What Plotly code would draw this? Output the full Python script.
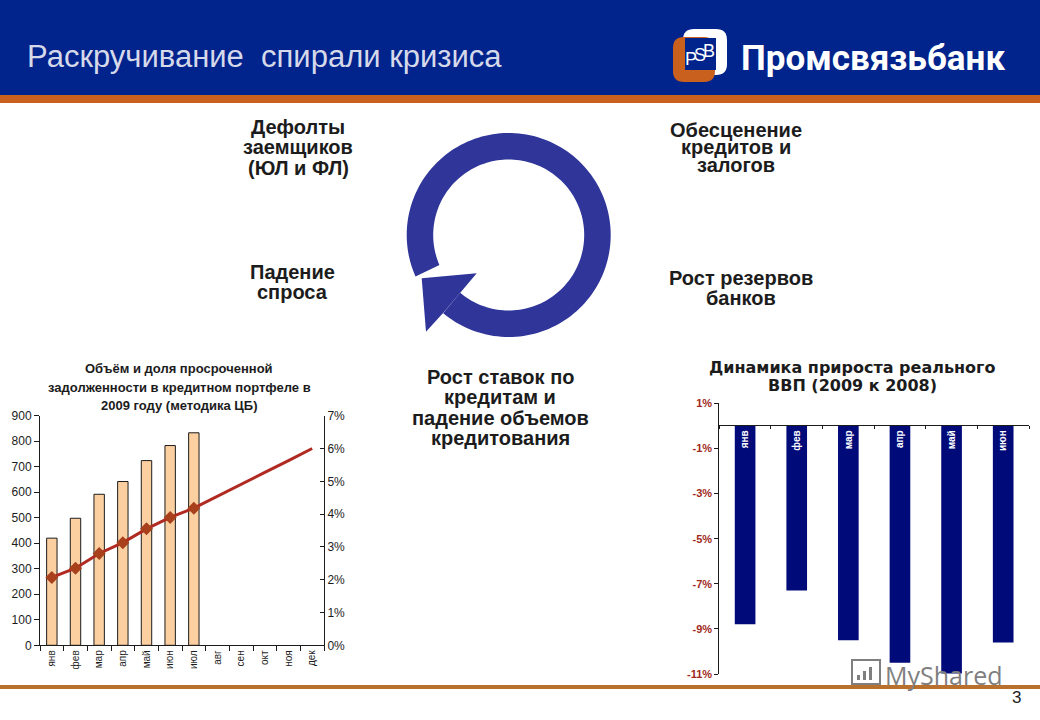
import numpy as np
import plotly.graph_objects as go

W, H = 1040, 720

# left chart
months = ["янв", "фев", "мар", "апр", "май", "июн", "июл", "авг", "сен", "окт", "ноя", "дек"]
overdue_volume = [420, 498, 592, 642, 724, 783, 833]
overdue_share = [2.07, 2.35, 2.8, 3.13, 3.55, 3.9, 4.18, 4.55, 4.91, 5.27, 5.63, 6.0]
share_ticks = [0, 1, 2, 3, 4, 5, 6, 7]

# right chart
gdp_months = ["янв", "фев", "мар", "апр", "май", "июн"]
gdp_growth = [-8.8, -7.3, -9.5, -10.5, -10.98, -9.6]
gdp_ticks = [1, -1, -3, -5, -7, -9, -11]

ARIAL = "Liberation Sans"
NAVY = "#00238c"
ORANGE = "#c9601e"
RING = "#2f3599"
INK = "#1c1c1c"


def px(x):
    return x / W


def py(y):
    return 1 - y / H


def rect(x0, y0, x1, y1, color):
    return dict(type="rect", xref="paper", yref="paper", x0=px(x0), x1=px(x1),
                y0=py(y0), y1=py(y1), fillcolor=color, line_width=0, layer="below")


def polygon(points, color):
    d = "M " + " L ".join(f"{px(x):.5f},{py(y):.5f}" for x, y in points) + " Z"
    return dict(type="path", xref="paper", yref="paper", path=d,
                fillcolor=color, line_width=0, layer="below")


def rounded(x0, y0, x1, y1, r, color):
    p = lambda x, y: f"{px(x):.5f},{py(y):.5f}"
    d = (f"M {p(x0 + r, y0)} L {p(x1 - r, y0)} Q {p(x1, y0)} {p(x1, y0 + r)} "
         f"L {p(x1, y1 - r)} Q {p(x1, y1)} {p(x1 - r, y1)} "
         f"L {p(x0 + r, y1)} Q {p(x0, y1)} {p(x0, y1 - r)} "
         f"L {p(x0, y0 + r)} Q {p(x0, y0)} {p(x0 + r, y0)} Z")
    return dict(type="path", xref="paper", yref="paper", path=d,
                fillcolor=color, line_width=0, layer="below")


def text(x, y, s, size, color=INK, bold=False, family=ARIAL, anchor="center"):
    return dict(xref="paper", yref="paper", x=px(x), y=py(y), text=f"<b>{s}</b>" if bold else s,
                showarrow=False, xanchor=anchor, yanchor="middle",
                font=dict(size=size, color=color, family=family))


def block(x, ys, lines, size, **kw):
    return [text(x, y, s, size, **kw) for y, s in zip(ys, lines)]


def arc(cx, cy, r, start, end):
    # screen angles, y points down, so growing angle runs clockwise
    return [(cx + r * np.cos(t), cy + r * np.sin(t))
            for t in np.radians(np.linspace(start, end, 160))]


fig = go.Figure()

fig.add_trace(go.Bar(x=months[:7], y=overdue_volume, xaxis="x", yaxis="y", width=0.44,
                     marker=dict(color="#fbcf9f", line=dict(color=INK, width=1))))
fig.add_trace(go.Scatter(x=months, y=overdue_share, xaxis="x", yaxis="y2", mode="lines",
                         line=dict(color="#b02a22", width=3)))
fig.add_trace(go.Scatter(x=months[:7], y=overdue_share[:7], xaxis="x", yaxis="y2", mode="markers",
                         marker=dict(symbol="diamond", size=10, color="#a8401c")))
fig.add_trace(go.Bar(x=gdp_months, y=gdp_growth, xaxis="x2", yaxis="y3", width=0.4,
                     marker=dict(color="#000a78", line_width=0)))

fig.update_layout(
    width=W, height=H, margin=dict(l=0, r=0, t=0, b=0),
    paper_bgcolor="white", plot_bgcolor="rgba(0,0,0,0)", showlegend=False,
    font=dict(family=ARIAL),
    xaxis=dict(domain=[px(40), px(324)], anchor="y", categoryorder="array", categoryarray=months,
               range=[-0.5, 11.5], tickson="boundaries", ticks="outside", ticklen=5, tickwidth=1,
               tickcolor=INK, showline=True, linecolor=INK, showgrid=False, automargin=False,
               tickangle=-90, tickfont=dict(size=10, color=INK)),
    yaxis=dict(domain=[py(645.3), py(415.7)], range=[0, 900], dtick=100, ticks="outside", ticklen=5,
               tickcolor=INK, showline=True, linecolor=INK, showgrid=False, zeroline=False,
               automargin=False, tickfont=dict(size=12, color=INK)),
    yaxis2=dict(domain=[py(645.3), py(415.7)], range=[0, 7], overlaying="y", side="right", anchor="x",
                tickvals=share_ticks, ticktext=[f"{v}%" for v in share_ticks], ticks="inside", ticklen=4,
                tickcolor=INK, showline=True, linecolor=INK, showgrid=False, zeroline=False,
                automargin=False, tickfont=dict(size=12, color=INK)),
    xaxis2=dict(domain=[px(719.3), px(1029)], anchor="free", position=py(425.3), range=[-0.5, 5.5],
                tickson="boundaries", ticks="outside", ticklen=3, tickcolor=INK,
                showline=True, linecolor=INK, showgrid=False, tickangle=-90, automargin=False,
                tickfont=dict(size=10, color="white", weight="bold")),
    yaxis3=dict(domain=[py(674), py(403.3)], range=[-11, 1], anchor="x2", tickvals=gdp_ticks,
                ticktext=[f"<b>{v}%</b>" for v in gdp_ticks], ticks="outside", ticklen=4, tickcolor=INK,
                showline=True, linecolor=INK, showgrid=False, zeroline=False, automargin=False,
                tickfont=dict(size=11, color="#a02a22", family=ARIAL)),
)

outer = arc(508.7, 235, 102, 156, 490)
inner = arc(508.7, 235, 75.5, 156.6, 490)
shapes = [
    rect(0, 0, W, 95, NAVY),
    rect(0, 95, W, 103, ORANGE),
    rect(0, 685, W, 689, "#b8702c"),
    polygon(outer + inner[::-1], RING),
    polygon([(476.7, 273.3), (421.7, 278.3), (426, 331.7), (443.3, 312.7), (460.7, 292.3)], RING),
    # logo
    rounded(683, 29, 727, 75, 11, "white"),
    rounded(673, 37, 715, 82, 11, ORANGE),
    rect(685, 38, 716, 70, NAVY),
    # watermark icon
    dict(type="rect", xref="paper", yref="paper", x0=px(852), x1=px(880), y0=py(684), y1=py(660),
         line=dict(color="#7f7f7f", width=2), fillcolor="rgba(0,0,0,0)"),
    dict(type="rect", xref="paper", yref="paper", x0=px(857), x1=px(860), y0=py(680), y1=py(675),
         fillcolor="#7f7f7f", line_width=0),
    dict(type="rect", xref="paper", yref="paper", x0=px(863), x1=px(866), y0=py(680), y1=py(671),
         fillcolor="#7f7f7f", line_width=0),
    dict(type="rect", xref="paper", yref="paper", x0=px(869), x1=px(872), y0=py(680), y1=py(667),
         fillcolor="#7f7f7f", line_width=0),
]
fig.update_layout(shapes=shapes)

annotations = [
    text(25, 57, "Раскручивание  спирали кризиса", 31, color="#d6d9ea", anchor="left"),
    text(739, 58, "<b>Промсвязьбанк</b>", 35, color="white", family="Roboto", anchor="left"),
    text(691, 59, "P", 18, color="white"),
    text(700, 55, "S", 18, color="white"),
    text(709, 51, "B", 18, color="white"),
    text(1016, 697, "3", 17),
    text(944, 675, "MyShared", 25, color="#7f7f7f", family="Open Sans"),
]
annotations += block(298, [127, 147, 168], ["Дефолты", "заемщиков", "(ЮЛ и ФЛ)"], 20, bold=True)
annotations += block(736, [130, 147, 165], ["Обесценение", "кредитов и", "залогов"], 20, bold=True)
annotations += block(292, [272, 292], ["Падение", "спроса"], 20, bold=True)
annotations += block(741, [278, 298], ["Рост резервов", "банков"], 20, bold=True)
annotations += block(500, [377, 397, 418, 438],
                     ["Рост ставок по", "кредитам и", "падение объемов", "кредитования"], 20, bold=True)
annotations += block(179, [369, 387, 405],
                     ["Объём и доля просроченной", "задолженности в кредитном портфеле в", "2009 году (методика ЦБ)"],
                     13, bold=True)
annotations += block(852, [367, 385], ["Динамика прироста реального", "ВВП (2009 к 2008)"], 16,
                     bold=True, family="DejaVu Sans")
fig.update_layout(annotations=annotations)

fig.write_html("out.html", config={"displayModeBar": False}, post_script="document.body.style.margin = '0';")
